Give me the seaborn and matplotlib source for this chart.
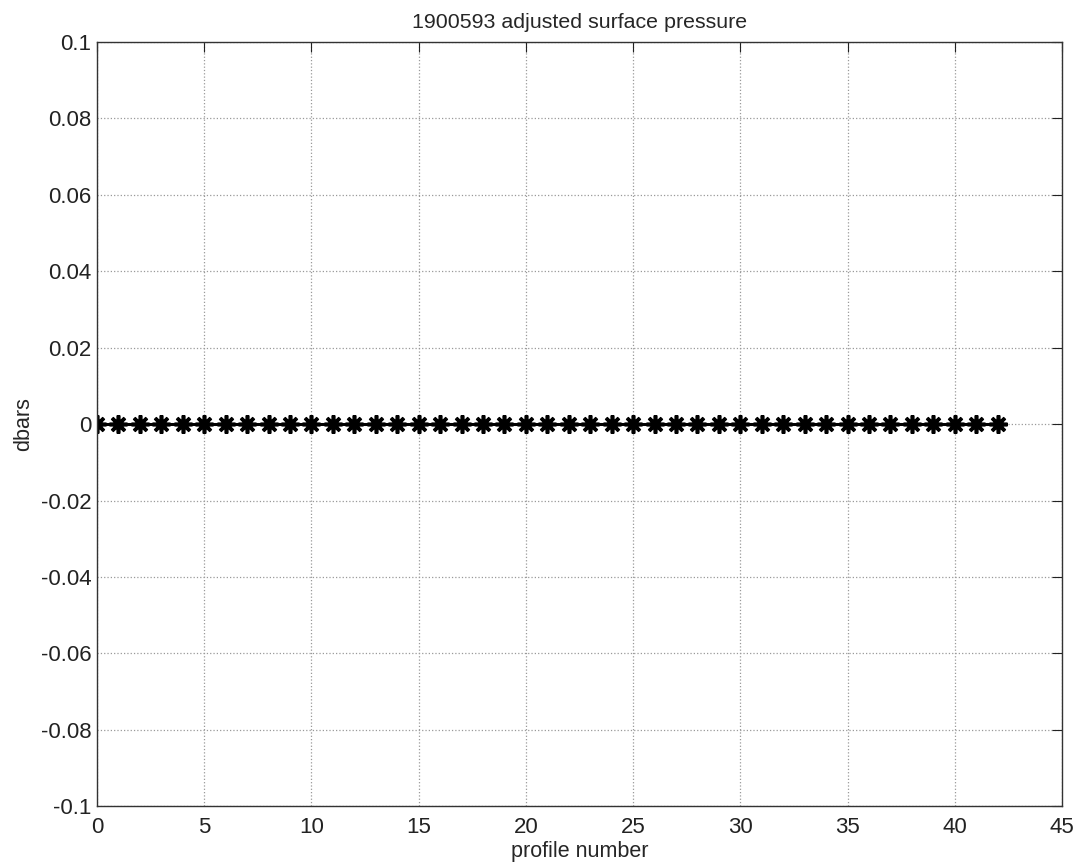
import matplotlib
matplotlib.use("Agg")
import matplotlib.pyplot as plt
import seaborn as sns
import pandas as pd

# profile numbers and adjusted surface pressure (dbars)
profile_numbers = [0, 1, 2, 3, 4, 5, 6, 7, 8, 9, 10, 11, 12, 13, 14, 15, 16, 17, 18, 19, 20,
                   21, 22, 23, 24, 25, 26, 27, 28, 29, 30, 31, 32, 33, 34, 35, 36, 37, 38, 39,
                   40, 41, 42]
pressure = [0, 0, 0, 0, 0, 0, 0, 0, 0, 0, 0, 0, 0, 0, 0, 0, 0, 0, 0, 0, 0,
            0, 0, 0, 0, 0, 0, 0, 0, 0, 0, 0, 0, 0, 0, 0, 0, 0, 0, 0,
            0, 0, 0]
x_ticks = [0, 5, 10, 15, 20, 25, 30, 35, 40, 45]
y_ticks = [-0.1, -0.08, -0.06, -0.04, -0.02, 0, 0.02, 0.04, 0.06, 0.08, 0.1]
y_tick_labels = ["-0.1", "-0.08", "-0.06", "-0.04", "-0.02", "0",
                 "0.02", "0.04", "0.06", "0.08", "0.1"]

sns.set_style("white")
plt.rcParams['font.family'] = ['Liberation Sans', 'DejaVu Sans']

df = pd.DataFrame({"profile": profile_numbers, "dbars": pressure})

fig = plt.figure(figsize=(10.81, 8.65), dpi=100)
ax = fig.add_axes([0.0897, 0.068, 0.8927, 0.8834])

sns.lineplot(data=df, x="profile", y="dbars", ax=ax, color="black", linewidth=2.2,
             marker=(8, 2, 0), markersize=13, markeredgewidth=2.6,
             markeredgecolor="black")

ax.set_xlim(0, 45)
ax.set_ylim(-0.1, 0.1)
ax.set_xticks(x_ticks)
ax.set_yticks(y_ticks)
ax.set_yticklabels(y_tick_labels)
ax.grid(True, linestyle=":", color="#999999", linewidth=0.9)
ax.tick_params(direction="in", length=7, top=True, right=True, labelsize=16,
               colors="#222222")
ax.tick_params(axis="x", pad=8)
ax.tick_params(axis="y", pad=4)
for s in ax.spines.values():
    s.set_color("#333333")
    s.set_linewidth(1.0)

ax.set_title("1900593 adjusted surface pressure", fontsize=15.4, pad=10)
ax.set_xlabel("profile number", fontsize=15.5, labelpad=2)
ax.set_ylabel("dbars", fontsize=15.5, labelpad=5)

fig.savefig("out.png", dpi=100)
plt.close(fig)
